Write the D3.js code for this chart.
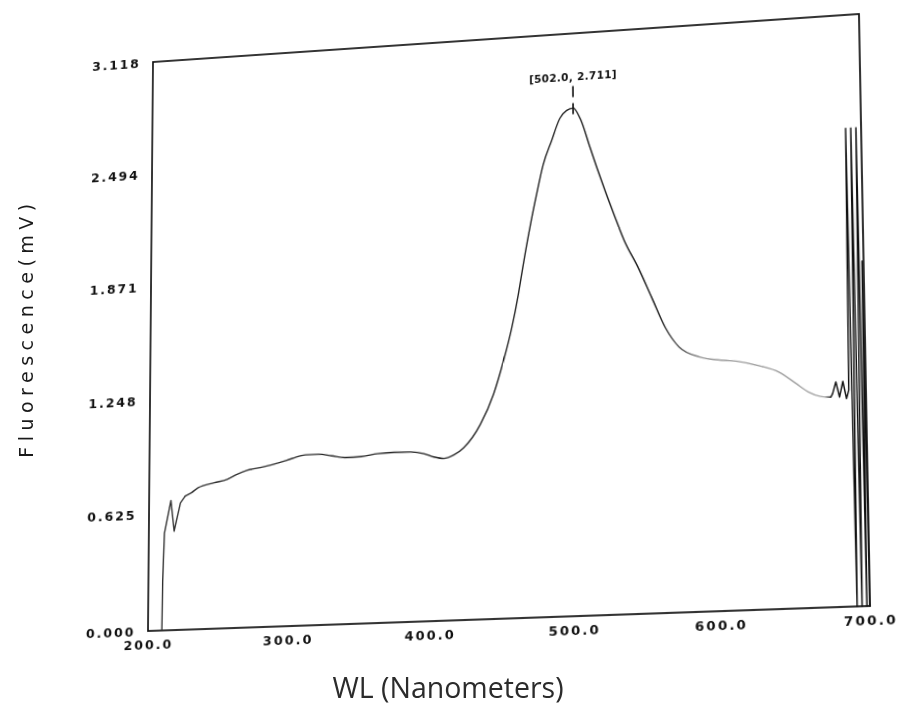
<!DOCTYPE html>
<html>
<head>
<meta charset="utf-8">
<script src="https://cdn.jsdelivr.net/npm/d3@7/dist/d3.min.js"></script>
<style>
  html, body { margin: 0; padding: 0; background: #fff; }
  #wrap { position: relative; width: 903px; height: 713px; overflow: hidden; background: #fff; }
  #sheet { position: absolute; left: 0; top: 0; transform-origin: 0 0; }
  #titles { position: absolute; left: 0; top: 0; }
</style>
</head>
<body>
<div id="wrap">
  <svg id="sheet" width="903" height="713"></svg>
  <svg id="titles" width="903" height="713"></svg>
</div>
<script>
// Emission spectrum: wavelength (nm) and fluorescence (mV)
const wavelength = [
  210.0, 210.3, 211.3, 215.8, 218.3, 222.7, 226.1, 230.5, 235.4, 247.0,
  256.3, 263.3, 270.3, 282.0, 293.6, 303.0, 312.3, 321.6, 331.0, 340.3,
  352.0, 363.5, 375.2, 386.9, 396.2, 403.2, 410.2, 417.2, 424.2, 435.9,
  445.2, 452.3, 458.2, 462.9, 466.5, 471.2, 476.0, 480.7, 486.7, 492.7,
  497.5, 502.0, 507.0, 513.7, 518.3, 524.2, 530.0, 536.9, 546.2, 555.5,
  564.7, 573.9, 587.9, 604.2, 613.6, 628.8, 641.6, 653.3, 661.3, 669.4,
  676.4, 677.6, 679.9, 682.2, 684.6, 686.9, 688.5, 689.5, 691.5, 693.0,
  694.8, 696.5, 698.0, 699.0, 700.0
];
const fluorescence = [
  0.000, 0.260, 0.523, 0.698, 0.532, 0.683, 0.719, 0.735, 0.761, 0.784,
  0.799, 0.824, 0.843, 0.858, 0.877, 0.897, 0.913, 0.913, 0.901, 0.889,
  0.890, 0.902, 0.905, 0.903, 0.891, 0.871, 0.861, 0.877, 0.914, 1.035,
  1.193, 1.370, 1.546, 1.723, 1.883, 2.077, 2.254, 2.412, 2.540, 2.660,
  2.700, 2.711, 2.650, 2.490, 2.380, 2.245, 2.120, 1.978, 1.832, 1.665,
  1.500, 1.395, 1.337, 1.313, 1.304, 1.274, 1.237, 1.171, 1.125, 1.099,
  1.093, 1.110, 1.171, 1.091, 1.172, 1.081, 1.125, 2.510, 0.000, 2.510,
  0.000, 2.510, 0.000, 1.800, 0.000
];

const xTicks = [200, 300, 400, 500, 600, 700];
const yTicks = [0.000, 0.625, 1.248, 1.871, 2.494, 3.118];
const peakWl = 502.0;
const peakValue = 2.711;
const peakLabel = "[502.0, 2.711]";
const xTitle = "WL (Nanometers)";
const yTitle = "Fluorescence(mV)";

// Wavelength span where the trace is smooth; outside it the recorder noise is drawn sharp
const smoothSpan = [226.1, 676.4];

// Plot frame in sheet coordinates
const frame = { left: 150, top: 60, width: 712, height: 570 };

const x = d3.scaleLinear().domain([200, 700])
  .range([frame.left, frame.left + frame.width]);
const y = d3.scaleLinear().domain([0, 3.118])
  .range([frame.top + frame.height, frame.top]);

const sheet = d3.select("#sheet");

// Ink fades along the long tail, darker again at the noisy end
const grad = sheet.append("defs").append("linearGradient")
  .attr("id", "ink")
  .attr("gradientUnits", "userSpaceOnUse")
  .attr("x1", x(200)).attr("x2", x(700))
  .attr("y1", 0).attr("y2", 0);
[[200, "#303030"], [560, "#1e1e1e"], [590, "#9a9a9a"], [672, "#a8a8a8"], [677, "#111"], [700, "#111"]]
  .forEach(([wl, c]) => grad.append("stop")
    .attr("offset", (wl - 200) / 500).attr("stop-color", c));

// Tick labels (no tick marks)
const tickFont = g => g.selectAll("text")
  .attr("font-family", "'DejaVu Sans', Verdana, sans-serif")
  .attr("font-weight", "bold")
  .attr("font-size", 13)
  .attr("letter-spacing", 2)
  .attr("fill", "#111");

sheet.append("g")
  .attr("transform", `translate(0,${frame.top + frame.height})`)
  .call(d3.axisBottom(x).tickValues(xTicks).tickFormat(d3.format(".1f"))
    .tickSize(0).tickPadding(9))
  .call(g => g.select(".domain").remove())
  .call(tickFont);

sheet.append("g")
  .attr("transform", `translate(${frame.left},0)`)
  .call(d3.axisLeft(y).tickValues(yTicks).tickFormat(d3.format(".3f"))
    .tickSize(0).tickPadding(13))
  .call(g => g.select(".domain").remove())
  .call(tickFont);

// Frame
sheet.append("rect")
  .attr("x", x(200)).attr("y", y(3.118))
  .attr("width", x(700) - x(200)).attr("height", y(0) - y(3.118))
  .attr("fill", "none").attr("stroke", "#111").attr("stroke-width", 1.7);

// Spectrum trace: sharp noisy ends, smooth body
const points = wavelength.map((wl, i) => [wl, fluorescence[i]]);
const pieces = [
  { pts: points.filter(p => p[0] <= smoothSpan[0]), curve: d3.curveLinear },
  { pts: points.filter(p => p[0] >= smoothSpan[0] && p[0] <= smoothSpan[1]), curve: d3.curveMonotoneX },
  { pts: points.filter(p => p[0] >= smoothSpan[1]), curve: d3.curveLinear }
];
pieces.forEach(piece => {
  sheet.append("path")
    .datum(piece.pts)
    .attr("d", d3.line().curve(piece.curve).x(d => x(d[0])).y(d => y(d[1])))
    .attr("fill", "none")
    .attr("stroke", "url(#ink)")
    .attr("stroke-width", 1.4)
    .attr("stroke-linejoin", "round")
    .attr("stroke-linecap", "round");
});

// Peak marker and label
sheet.append("line")
  .attr("x1", x(peakWl)).attr("x2", x(peakWl))
  .attr("y1", y(peakValue) - 22).attr("y2", y(peakValue) + 8)
  .attr("stroke", "#111").attr("stroke-width", 1.6)
  .attr("stroke-dasharray", "11,6");

sheet.append("text")
  .attr("x", x(peakWl)).attr("y", y(peakValue) - 27)
  .attr("text-anchor", "middle")
  .attr("font-family", "'DejaVu Sans', Verdana, sans-serif")
  .attr("font-weight", "bold")
  .attr("font-size", 10.5)
  .attr("letter-spacing", 0.3)
  .attr("fill", "#111")
  .text(peakLabel);

// The printed sheet is photographed at a slant: map the frame's corners
// onto their positions on the page with a projective transform.
const quad = [[153, 62], [859, 14], [870, 606], [148, 631]]; // TL, TR, BR, BL
function squareToQuad(q) {
  const [[x0, y0], [x1, y1], [x2, y2], [x3, y3]] = q;
  const dx1 = x1 - x2, dx2 = x3 - x2, dx3 = x0 - x1 + x2 - x3;
  const dy1 = y1 - y2, dy2 = y3 - y2, dy3 = y0 - y1 + y2 - y3;
  const den = dx1 * dy2 - dx2 * dy1;
  const g = (dx3 * dy2 - dx2 * dy3) / den;
  const h = (dx1 * dy3 - dx3 * dy1) / den;
  return [
    [x1 - x0 + g * x1, x3 - x0 + h * x3, x0],
    [y1 - y0 + g * y1, y3 - y0 + h * y3, y0],
    [g, h, 1]
  ];
}
function mul(A, B) {
  return A.map((r, i) => B[0].map((_, j) => r.reduce((s, _, k) => s + A[i][k] * B[k][j], 0)));
}
const S = [
  [1 / frame.width, 0, -frame.left / frame.width],
  [0, 1 / frame.height, -frame.top / frame.height],
  [0, 0, 1]
];
const T = mul(squareToQuad(quad), S);
document.getElementById("sheet").style.transform =
  `matrix3d(${T[0][0]},${T[1][0]},0,${T[2][0]},${T[0][1]},${T[1][1]},0,${T[2][1]},0,0,1,0,${T[0][2]},${T[1][2]},0,${T[2][2]})`;

// Axis titles
const titles = d3.select("#titles");
titles.append("text")
  .attr("x", 448).attr("y", 698)
  .attr("text-anchor", "middle")
  .attr("font-family", "'Open Sans', sans-serif")
  .attr("font-size", 28.5)
  .attr("fill", "#2b2b2b")
  .text(xTitle);

titles.append("text")
  .attr("transform", "translate(33,328) rotate(-90)")
  .attr("text-anchor", "middle")
  .attr("font-family", "'DejaVu Sans', Verdana, sans-serif")
  .attr("font-size", 19)
  .attr("letter-spacing", 5.5)
  .attr("fill", "#1a1a1a")
  .text(yTitle);
</script>
</body>
</html>
